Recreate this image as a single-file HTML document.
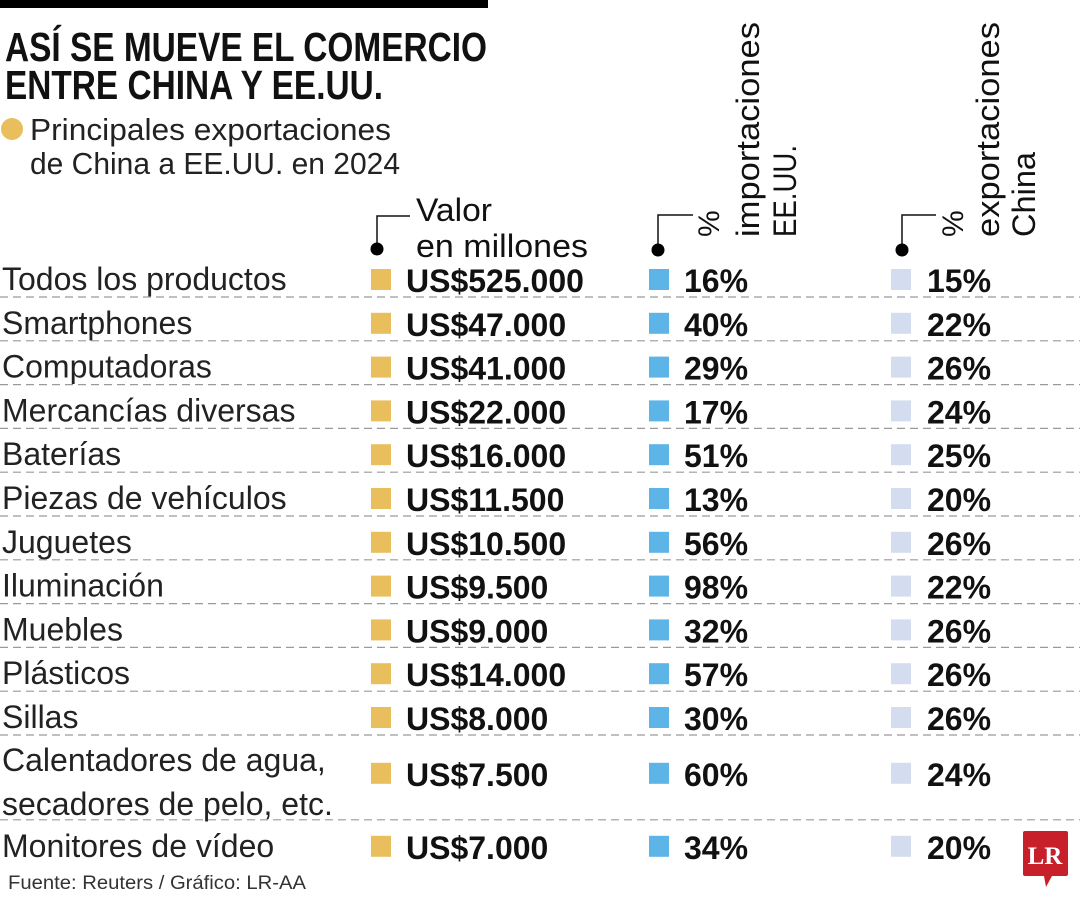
<!DOCTYPE html>
<html><head><meta charset="utf-8"><style>
html,body{margin:0;padding:0;background:#fff;}
svg{display:block;}
text{font-family:"Liberation Sans",sans-serif;}
</style></head><body>
<svg id="chart" width="1080" height="900" viewBox="0 0 1080 900" xmlns="http://www.w3.org/2000/svg">
<rect x="0" y="0" width="488" height="8" fill="#000"/>
<text x="5" y="61" font-size="41" font-weight="bold" textLength="482" lengthAdjust="spacingAndGlyphs" fill="#111">ASÍ SE MUEVE EL COMERCIO</text>
<text x="5" y="99" font-size="41" font-weight="bold" textLength="378" lengthAdjust="spacingAndGlyphs" fill="#111">ENTRE CHINA Y EE.UU.</text>
<circle cx="12" cy="129" r="11" fill="#e8bf5c"/>
<text x="30" y="140" font-size="31" textLength="361" lengthAdjust="spacingAndGlyphs" fill="#222">Principales exportaciones</text>
<text x="30" y="174" font-size="31" textLength="370" lengthAdjust="spacingAndGlyphs" fill="#222">de China a EE.UU. en 2024</text>

<g>
<path d="M377 249 V216 H410" fill="none" stroke="#111" stroke-width="1.5"/>
<circle cx="377" cy="249" r="6.5" fill="#000"/>
<text x="416" y="221" font-size="32" textLength="76" lengthAdjust="spacingAndGlyphs" fill="#111">Valor</text>
<text x="416" y="257" font-size="32" textLength="172" lengthAdjust="spacingAndGlyphs" fill="#111">en millones</text>
</g>
<g>
<path d="M658 250 V215 H693" fill="none" stroke="#111" stroke-width="1.5"/>
<circle cx="658" cy="250" r="6.5" fill="#000"/>
<text transform="translate(719,237) rotate(-90)" font-size="30" fill="#111">%</text>
<text transform="translate(759,237) rotate(-90)" font-size="32" textLength="215" lengthAdjust="spacingAndGlyphs" fill="#111">importaciones</text>
<text transform="translate(796,237) rotate(-90)" font-size="32" textLength="92" lengthAdjust="spacingAndGlyphs" fill="#111">EE.UU.</text>
</g>
<g>
<path d="M902 250 V215 H936" fill="none" stroke="#111" stroke-width="1.5"/>
<circle cx="902" cy="250" r="6.5" fill="#000"/>
<text transform="translate(963,237) rotate(-90)" font-size="30" fill="#111">%</text>
<text transform="translate(999,237) rotate(-90)" font-size="32" textLength="215" lengthAdjust="spacingAndGlyphs" fill="#111">exportaciones</text>
<text transform="translate(1035,237) rotate(-90)" font-size="32" textLength="85" lengthAdjust="spacingAndGlyphs" fill="#111">China</text>
</g>

<g id="rows"></g>

<text x="8" y="889" font-size="19" fill="#333" textLength="298" lengthAdjust="spacingAndGlyphs">Fuente: Reuters / Gráfico: LR-AA</text>
<g>
<path d="M1025 831 H1066 Q1068 831 1068 833 V874 Q1068 876 1066 876 H1052 L1046 887 L1044 876 H1025 Q1023 876 1023 874 V833 Q1023 831 1025 831 Z" fill="#c8202a"/>
<text x="1045" y="864" text-anchor="middle" font-weight="bold" font-size="25" fill="#fff" style="font-family:'Liberation Serif',serif">LR</text>
</g>
</svg>
<script>
const categories = ["Todos los productos","Smartphones","Computadoras","Mercancías diversas","Baterías","Piezas de vehículos","Juguetes","Iluminación","Muebles","Plásticos","Sillas","Calentadores de agua,|secadores de pelo, etc.","Monitores de vídeo"];
const valueLabels = ["US$525.000","US$47.000","US$41.000","US$22.000","US$16.000","US$11.500","US$10.500","US$9.500","US$9.000","US$14.000","US$8.000","US$7.500","US$7.000"];
const importShare = [16,40,29,17,51,13,56,98,32,57,30,60,34];
const exportShare = [15,22,26,24,25,20,26,22,26,26,26,24,20];

const NS = "http://www.w3.org/2000/svg";
const g = document.getElementById('rows');
function mk(tag, attrs, txt){
  const e = document.createElementNS(NS, tag);
  for (const k in attrs) e.setAttribute(k, attrs[k]);
  if (txt !== undefined) e.textContent = txt;
  g.appendChild(e);
  return e;
}
let y = 279;
const pitch = 43.8;
for (let i = 0; i < categories.length; i++) {
  const lines = categories[i].split('|');
  const multi = lines.length > 1;
  const center = multi ? y + 12 : y;
  lines.forEach((ln, j) => {
    const t = mk('text', {x:2, y:(multi ? y - 1 : y) + 11 + j * 44, 'font-size':32, fill:'#222'}, ln);
    
    
  });
  const s1 = mk('rect', {x:371, y:center-10, width:20, height:21, fill:'#e8bf5c'});
  
  
  const v = mk('text', {x:406, y:center+13, 'font-size':32, 'font-weight':'bold', fill:'#111'}, valueLabels[i]);
  
  
  const s2 = mk('rect', {x:649, y:center-10, width:20, height:21, fill:'#5db4e6'});
  
  
  const p1 = mk('text', {x:684, y:center+13, 'font-size':32, 'font-weight':'bold', fill:'#111'}, importShare[i] + '%');
  
  
  const s3 = mk('rect', {x:891, y:center-10, width:20, height:21, fill:'#d3ddef'});
  
  
  const p2 = mk('text', {x:927, y:center+13, 'font-size':32, 'font-weight':'bold', fill:'#111'}, exportShare[i] + '%');
  
  
  if (i < categories.length - 1) {
    const sepY = multi ? y + 59 : y + 18;
    const l = mk('line', {x1:0, x2:1080, y1:sepY, y2:sepY, stroke:'#9a9a9a', 'stroke-width':1.2, 'stroke-dasharray':'8 5'});
    
    
  }
  y = multi ? y + 85 : y + pitch;
}
</script>
</body></html>
